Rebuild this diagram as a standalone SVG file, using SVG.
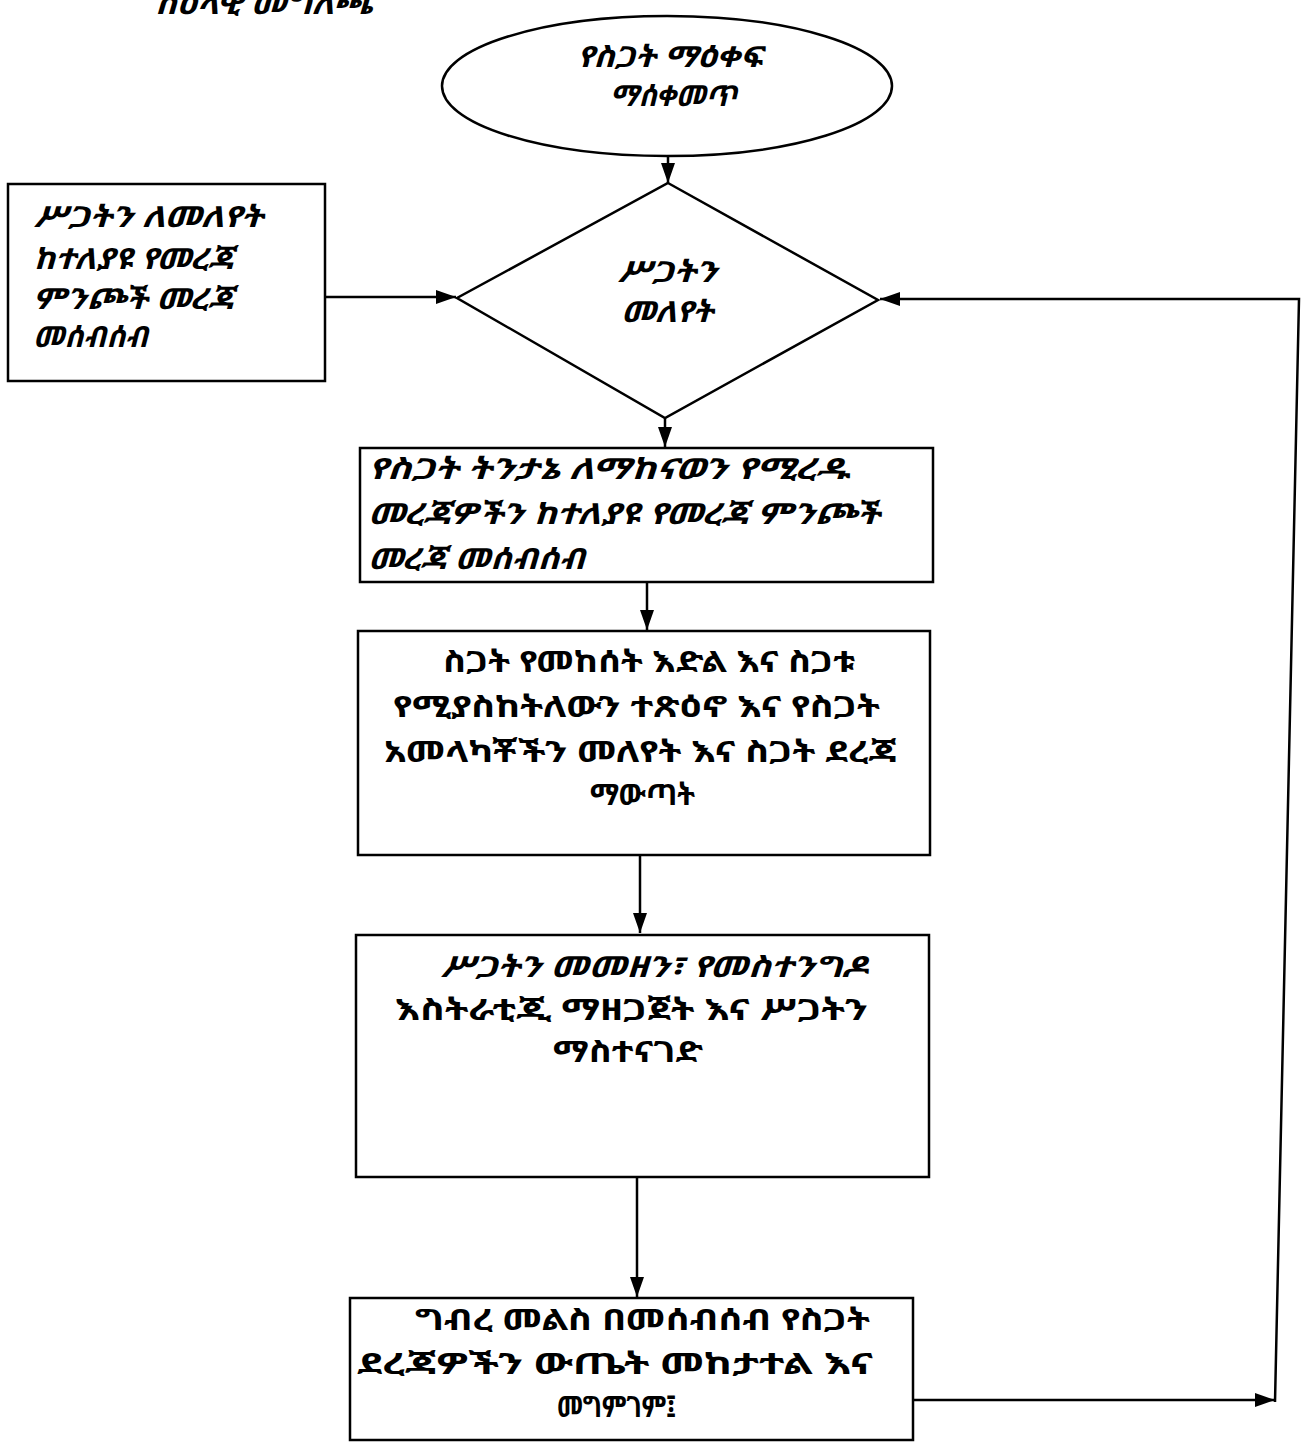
<svg xmlns="http://www.w3.org/2000/svg" width="1304" height="1445" viewBox="0 0 1304 1445">
<style>
.shape{fill:#ffffff;stroke:#000000;stroke-width:2.5}
.edge{fill:none;stroke:#000000;stroke-width:2.5}
text{font-family:"Noto Sans Ethiopic","Abyssinica SIL","Noto Sans","DejaVu Sans",sans-serif;font-size:29px;font-weight:bold;fill:#000000;dominant-baseline:central}
.c{text-anchor:middle}
.i{font-style:italic}
</style>
<defs>
<marker id="ah" viewBox="0 0 20 14" refX="20" refY="7" markerWidth="20" markerHeight="14" markerUnits="userSpaceOnUse" orient="auto">
<path d="M0,0 L20,7 L0,14 Z" fill="#000000"/>
</marker>
</defs>
<rect width="1304" height="1445" fill="#ffffff"/>
<g id="caption">
<text x="155" y="2" class="i" font-size="32" textLength="217" lengthAdjust="spacingAndGlyphs">ስዕላዊ መግለጫ</text>
</g>
<g id="connectors">
<path class="edge" d="M668,156 L668,183" marker-end="url(#ah)"/>
<path class="edge" d="M325,297 L456,297" marker-end="url(#ah)"/>
<path class="edge" d="M665,418 L665,447" marker-end="url(#ah)"/>
<path class="edge" d="M647,582 L647,630" marker-end="url(#ah)"/>
<path class="edge" d="M640,855 L640,933" marker-end="url(#ah)"/>
<path class="edge" d="M637,1177 L637,1297" marker-end="url(#ah)"/>
<path class="edge" d="M913,1400 L1275,1400" marker-end="url(#ah)"/>
<path class="edge" d="M1275,1402 L1299,299 L880,299" marker-end="url(#ah)"/>
</g>
<g id="start">
<ellipse class="shape" cx="667" cy="86" rx="225" ry="70"/>
<text x="577" y="55" class="i" textLength="185" lengthAdjust="spacingAndGlyphs">የስጋት ማዕቀፍ</text>
<text x="610" y="94" class="i" textLength="127" lengthAdjust="spacingAndGlyphs">ማሰቀመጥ</text>
</g>
<g id="collect-sources">
<rect class="shape" x="8" y="184" width="317" height="197"/>
<text x="33" y="215" class="i" textLength="230" lengthAdjust="spacingAndGlyphs">ሥጋትን ለመለየት</text>
<text x="33" y="257" class="i" textLength="200" lengthAdjust="spacingAndGlyphs">ከተለያዩ የመረጃ</text>
<text x="33" y="297" class="i" textLength="200" lengthAdjust="spacingAndGlyphs">ምንጮች መረጃ</text>
<text x="33" y="335" class="i" textLength="115" lengthAdjust="spacingAndGlyphs">መሰብሰብ</text>
</g>
<g id="identify">
<polygon class="shape" points="668,183 878,300 665,418 457,298"/>
<text x="617" y="270" class="i" textLength="100" lengthAdjust="spacingAndGlyphs">ሥጋትን</text>
<text x="621" y="310" class="i" textLength="92" lengthAdjust="spacingAndGlyphs">መለየት</text>
</g>
<g id="collect-analysis">
<rect class="shape" x="360" y="448" width="573" height="134"/>
<text x="368" y="467" class="i" textLength="482" lengthAdjust="spacingAndGlyphs">የስጋት ትንታኔ ለማከናወን የሚረዱ</text>
<text x="368" y="512" class="i" textLength="512" lengthAdjust="spacingAndGlyphs">መረጃዎችን ከተለያዩ የመረጃ ምንጮች</text>
<text x="368" y="557" class="i" textLength="217" lengthAdjust="spacingAndGlyphs">መረጃ መሰብሰብ</text>
</g>
<g id="assess">
<rect class="shape" x="358" y="631" width="572" height="224"/>
<text x="443" y="660" textLength="412" lengthAdjust="spacingAndGlyphs">ስጋት የመከሰት እድል እና ስጋቱ</text>
<text x="393" y="705" textLength="487" lengthAdjust="spacingAndGlyphs">የሚያስከትለውን ተጽዕኖ እና የስጋት</text>
<text x="384" y="750" textLength="513" lengthAdjust="spacingAndGlyphs">አመላካቾችን መለየት እና  ስጋት ደረጃ</text>
<text x="590" y="793" textLength="105" lengthAdjust="spacingAndGlyphs">ማውጣት</text>
</g>
<g id="treat">
<rect class="shape" x="356" y="935" width="573" height="242"/>
<text x="440" y="965" class="i" textLength="428" lengthAdjust="spacingAndGlyphs">ሥጋትን መመዘን፣ የመስተንግዶ</text>
<text x="395" y="1008" textLength="473" lengthAdjust="spacingAndGlyphs">እስትራቲጂ ማዘጋጀት እና ሥጋትን</text>
<text x="553" y="1050" textLength="150" lengthAdjust="spacingAndGlyphs">ማስተናገድ</text>
</g>
<g id="monitor">
<rect class="shape" x="350" y="1298" width="563" height="142"/>
<text x="415" y="1318" textLength="455" lengthAdjust="spacingAndGlyphs">ግብረ መልስ በመሰብሰብ የስጋት</text>
<text x="357" y="1362" textLength="516" lengthAdjust="spacingAndGlyphs">ደረጃዎችን ውጤት መከታተል እና</text>
<text x="557" y="1405" textLength="119" lengthAdjust="spacingAndGlyphs">መግምገም፤</text>
</g>
</svg>
